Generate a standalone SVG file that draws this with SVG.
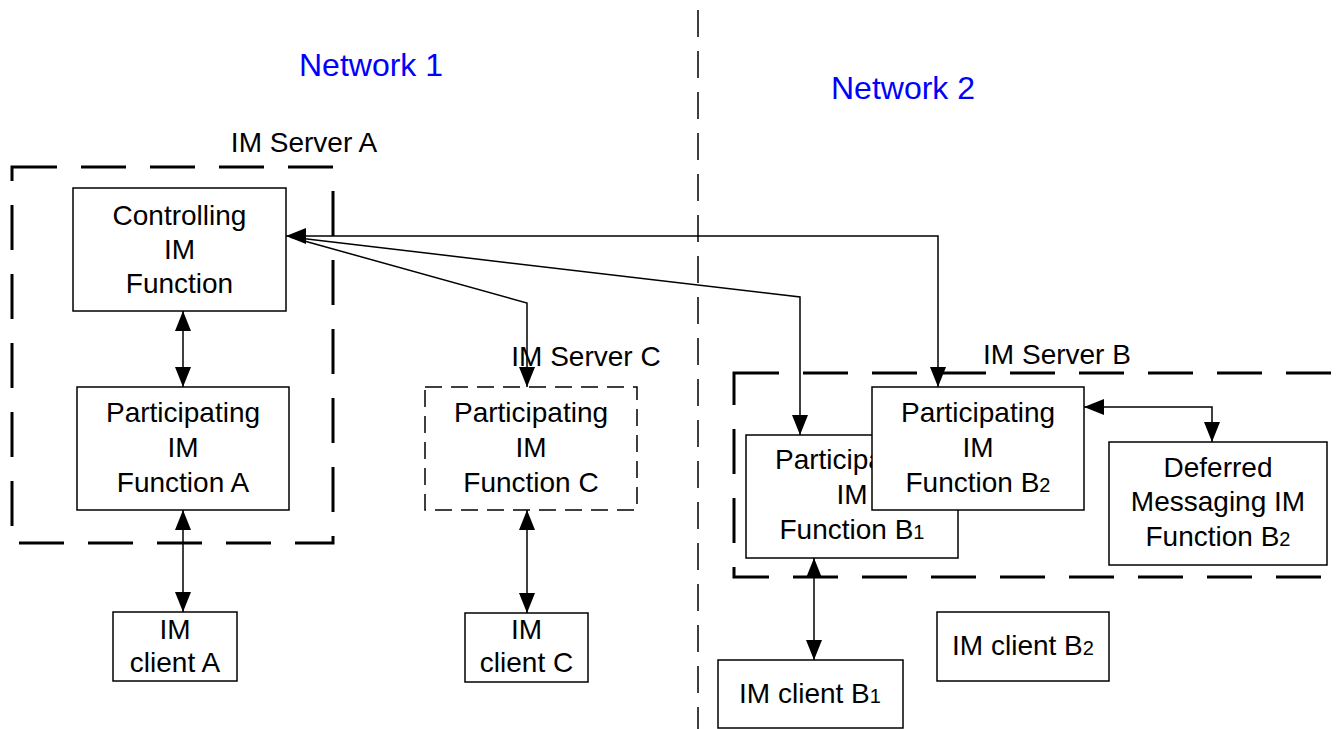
<svg xmlns="http://www.w3.org/2000/svg" width="1340" height="729" viewBox="0 0 1340 729">
<defs>
<style>
text{font-family:"Liberation Sans",Arial,sans-serif;font-size:28px;fill:#000;text-anchor:middle}
.net{font-size:32px;fill:#0000ff}
.sub{font-size:20px}
.box{fill:#fff;stroke:#000;stroke-width:1.5}
.dbox{fill:#fff;stroke:#000;stroke-width:1.5;stroke-dasharray:17 9}
.srv{fill:none;stroke:#000;stroke-width:3;stroke-dasharray:45 24}
.div{fill:none;stroke:#000;stroke-width:1.5;stroke-dasharray:27 14}
.ln{fill:none;stroke:#000;stroke-width:1.5}
.both{marker-start:url(#ah);marker-end:url(#ah)}
.end{marker-end:url(#ah)}
</style>
<marker id="ah" viewBox="0 0 20 16" refX="20" refY="8" markerWidth="20" markerHeight="16" markerUnits="userSpaceOnUse" orient="auto-start-reverse">
<path d="M0,0 L20,8 L0,16 z" fill="#000"/>
</marker>
</defs>
<rect width="1340" height="729" fill="#fff"/>
<line class="div" x1="698" y1="10" x2="698" y2="729"/>
<text class="net" x="371" y="76">Network 1</text>
<text class="net" x="903" y="99">Network 2</text>
<g id="serverA">
<rect class="srv" x="12" y="167" width="321" height="376"/>
<text x="304" y="152">IM Server A</text>
</g>
<g id="serverB">
<rect class="srv" x="734" y="373" width="640" height="204"/>
<text x="1057" y="364">IM Server B</text>
</g>
<g id="serverC">
<text x="586" y="366">IM Server C</text>
</g>
<g id="controlling">
<rect class="box" x="73" y="188" width="213" height="123"/>
<text x="179.5" y="225">Controlling</text>
<text x="179.5" y="259">IM</text>
<text x="179.5" y="293">Function</text>
</g>
<g id="partA">
<rect class="box" x="77" y="387" width="212" height="123"/>
<text x="183" y="422">Participating</text>
<text x="183" y="457">IM</text>
<text x="183" y="492">Function A</text>
</g>
<g id="partC">
<rect class="dbox" x="425" y="387" width="212" height="123"/>
<text x="531" y="422">Participating</text>
<text x="531" y="457">IM</text>
<text x="531" y="492">Function C</text>
</g>
<g id="partB1">
<rect class="box" x="746" y="435" width="212" height="123"/>
<text x="852" y="469">Participating</text>
<text x="852" y="504">IM</text>
<text x="852" y="539">Function B<tspan class="sub">1</tspan></text>
</g>
<g id="partB2">
<rect class="box" x="872" y="387" width="212" height="123"/>
<text x="978" y="422">Participating</text>
<text x="978" y="457">IM</text>
<text x="978" y="492">Function B<tspan class="sub">2</tspan></text>
</g>
<g id="deferred">
<rect class="box" x="1109" y="442" width="218" height="123"/>
<text x="1218" y="477">Deferred</text>
<text x="1218" y="511">Messaging IM</text>
<text x="1218" y="546">Function B<tspan class="sub">2</tspan></text>
</g>
<g id="clientA">
<rect class="box" x="113" y="612" width="124" height="69"/>
<text x="175" y="639">IM</text>
<text x="175" y="672">client A</text>
</g>
<g id="clientC">
<rect class="box" x="465" y="613" width="123" height="69"/>
<text x="526.5" y="639">IM</text>
<text x="526.5" y="672">client C</text>
</g>
<g id="clientB1">
<rect class="box" x="718" y="660" width="185" height="68"/>
<text x="810" y="703">IM client B<tspan class="sub">1</tspan></text>
</g>
<g id="clientB2">
<rect class="box" x="937" y="612" width="172" height="69"/>
<text x="1023" y="655">IM client B<tspan class="sub">2</tspan></text>
</g>
<g id="connectors">
<path class="ln both" d="M183,311 V387"/>
<path class="ln both" d="M183,510 V612"/>
<path class="ln both" d="M527,510 V613"/>
<path class="ln both" d="M814,558 V660"/>
<path class="ln both" d="M286,236 H938 V387"/>
<path class="ln end" d="M290,237 L527,303 V387"/>
<path class="ln end" d="M290,237 L800,297 V435"/>
<path class="ln both" d="M1084,407 H1212 V442"/>
</g>
</svg>
